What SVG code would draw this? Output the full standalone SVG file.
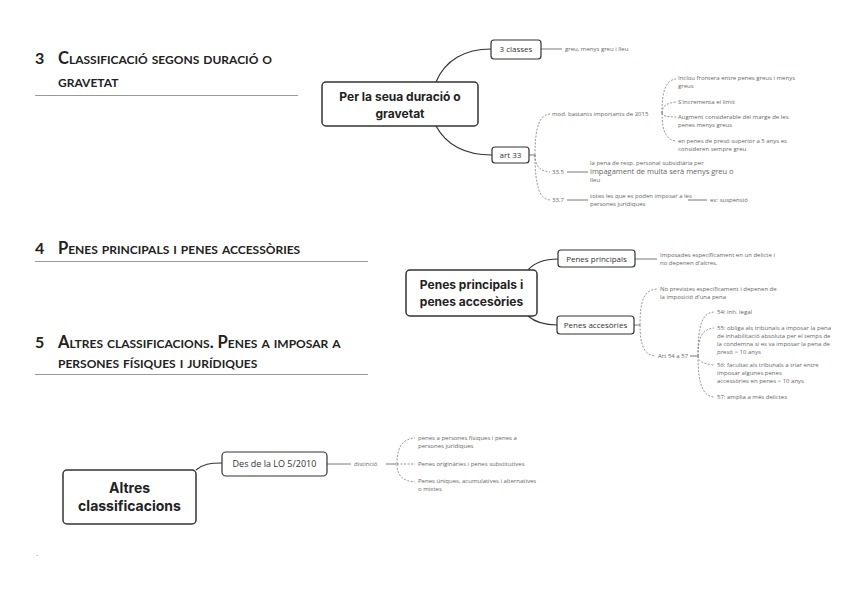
<svg xmlns="http://www.w3.org/2000/svg" width="848" height="599" viewBox="0 0 848 599">
<style>
.h{font-family:Lato,"Liberation Sans",sans-serif;font-weight:700;font-size:16.5px;font-variant:small-caps;fill:#222}
.hn{font-family:Lato,"Liberation Sans",sans-serif;font-weight:700;font-size:16px;fill:#222}
.rule{stroke:#999;stroke-width:1}
.root{fill:#fff;stroke:#333;stroke-width:1.5}
.sub{fill:#fff;stroke:#333;stroke-width:1.2}
.rt{font-family:Inter,"Open Sans",sans-serif;font-weight:700;font-size:12px;fill:#222;text-anchor:middle}
.st{font-family:"Open Sans","Liberation Sans",sans-serif;font-size:8px;fill:#333;text-anchor:middle}
.t{font-family:"Open Sans","Liberation Sans",sans-serif;font-size:6px;fill:#666}
.c{fill:none;stroke:#333;stroke-width:1.2}
.s{fill:none;stroke:#555;stroke-width:0.8}
.d{fill:none;stroke:#666;stroke-width:0.7;stroke-dasharray:2 1.5}
</style>
<g id="headings">
<text class="hn" x="35" y="64">3</text>
<text class="h" x="58" y="64">Classificació segons duració o</text>
<text class="h" x="58" y="87">gravetat</text>
<line class="rule" x1="35" y1="95.5" x2="298" y2="95.5"/>
<text class="hn" x="35" y="254">4</text>
<text class="h" x="58" y="254">Penes principals i penes accessòries</text>
<line class="rule" x1="35" y1="261.5" x2="368" y2="261.5"/>
<text class="hn" x="35" y="348">5</text>
<text class="h" x="58" y="348">Altres classificacions. Penes a imposar a</text>
<text class="h" x="58" y="368">persones físiques i jurídiques</text>
<line class="rule" x1="35" y1="374.5" x2="368" y2="374.5"/>
<text x="36" y="556" style="font-family:'Liberation Sans',sans-serif;font-size:8px;fill:#555">.</text>
</g>
<g id="connectors">
<path class="c" d="M436,82 C445,60 465,49 491,49"/>
<path class="c" d="M436,126 C448,148 468,155 492,155"/>
<line class="s" x1="541" y1="49" x2="562" y2="49"/>
<line class="s" x1="529" y1="155" x2="535" y2="155"/>
<path class="d" d="M535,155 C535,125 540,115 550,114"/>
<path class="d" d="M535,155 C535,166 540,171 550,172"/>
<path class="d" d="M535,155 C535,188 540,199 550,200"/>
<path class="d" d="M662,113 C662,88 667,80 676,79"/>
<path class="d" d="M662,113 C662,106 667,103 676,102"/>
<path class="d" d="M662,113 C662,116 667,117 676,117"/>
<path class="d" d="M662,113 C662,133 667,140 676,141"/>
<line class="s" x1="567" y1="172" x2="588" y2="172"/>
<line class="s" x1="567" y1="200" x2="588" y2="200"/>
<line class="s" x1="688" y1="200" x2="707" y2="200"/>
<path class="c" d="M528,270 C535,262 545,259 558,259"/>
<path class="c" d="M528,316 C535,322 545,325 557,325"/>
<line class="s" x1="635" y1="259" x2="657" y2="259"/>
<line class="s" x1="634" y1="325" x2="640" y2="325"/>
<path class="d" d="M640,325 C640,298 645,290 657,289"/>
<path class="d" d="M640,325 C640,347 645,355 655,356"/>
<line class="s" x1="690" y1="356" x2="697" y2="356"/>
<path class="d" d="M698,356 C698,322 703,313 714,312"/>
<path class="d" d="M698,356 C698,336 703,329 714,328"/>
<path class="d" d="M698,356 C698,361 703,364 714,365"/>
<path class="d" d="M698,356 C698,385 703,396 714,397"/>
<path class="c" d="M196,470 C203,464 210,463 222,463"/>
<line class="s" x1="327" y1="464" x2="351" y2="464"/>
<line class="s" x1="386" y1="464" x2="396" y2="464"/>
<path class="d" d="M397,464 C397,446 403,439 415,438"/>
<line class="d" x1="397" y1="464" x2="415" y2="464"/>
<path class="d" d="M397,464 C397,476 403,481 415,482"/>
</g>
<g id="n-root1">
<rect class="root" x="322" y="82" width="156" height="44" rx="4"/>
<text class="rt" x="400" y="101">Per la seua duració o</text>
<text class="rt" x="400" y="118">gravetat</text>
</g>
<g id="n-3classes">
<rect class="sub" x="491" y="40" width="50" height="19" rx="3"/>
<text class="st" x="516" y="52">3 classes</text>
</g>
<g id="n-greu"><text class="t" x="565" y="51">greu, menys greu i lleu</text></g>
<g id="n-art33">
<rect class="sub" x="492" y="147" width="37" height="16" rx="3"/>
<text class="st" x="510.5" y="158">art 33</text>
</g>
<g id="n-mod"><text class="t" x="552" y="116">mod. bastants importants de 2015</text></g>
<g id="n-inclou"><text class="t" x="678" y="80">Inclou frontera entre penes greus i menys</text><text class="t" x="678" y="88">greus</text></g>
<g id="n-incr"><text class="t" x="678" y="104">S'incrementa el límit</text></g>
<g id="n-aug"><text class="t" x="678" y="119">Augment considerable del marge de les</text><text class="t" x="678" y="127">penes menys greus</text></g>
<g id="n-preso"><text class="t" x="678" y="143">en penes de presó superior a 5 anys es</text><text class="t" x="678" y="151">consideren sempre greu</text></g>
<g id="n-335"><text class="t" x="552" y="174">33.5</text></g>
<g id="n-335t"><text class="t" x="590" y="165">la pena de resp. personal subsidiària per</text><text class="t" x="590" y="174" style="font-size:7.5px">impagament de multa serà menys greu o</text><text class="t" x="590" y="182">lleu</text></g>
<g id="n-337"><text class="t" x="552" y="202">33.7</text></g>
<g id="n-337t"><text class="t" x="590" y="198">totes les que es poden imposar a les</text><text class="t" x="590" y="206">persones jurídiques</text></g>
<g id="n-ex"><text class="t" x="710" y="202">ex: suspensió</text></g>
<g id="n-root2">
<rect class="root" x="406" y="270" width="131" height="46" rx="4"/>
<text class="rt" x="471.5" y="289">Penes principals i</text>
<text class="rt" x="471.5" y="306">penes accesòries</text>
</g>
<g id="n-princ">
<rect class="sub" x="558" y="250" width="77" height="17" rx="3"/>
<text class="st" x="596.5" y="261.5">Penes principals</text>
</g>
<g id="n-princt"><text class="t" x="660" y="257">Imposades específicament en un delicte i</text><text class="t" x="660" y="265">no depenen d'altres.</text></g>
<g id="n-acc">
<rect class="sub" x="557" y="316" width="77" height="18" rx="3"/>
<text class="st" x="595.5" y="328">Penes accesòries</text>
</g>
<g id="n-nopr"><text class="t" x="660" y="291">No previstes específicament i depenen de</text><text class="t" x="660" y="299">la imposició d'una pena</text></g>
<g id="n-art54"><text class="t" x="658" y="358">Art 54 a 57</text></g>
<g id="n-54"><text class="t" x="717" y="314">54: inh. legal</text></g>
<g id="n-55"><text class="t" x="717" y="330">55: obliga als tribunals a imposar la pena</text><text class="t" x="717" y="338">de inhabilitació absoluta per el temps de</text><text class="t" x="717" y="346">la condemna si es va imposar la pena de</text><text class="t" x="717" y="354">presó &gt; 10 anys</text></g>
<g id="n-56"><text class="t" x="717" y="367">56: facultat als tribunals a triar entre</text><text class="t" x="717" y="375">imposar algunes penes</text><text class="t" x="717" y="383">accessòries en penes &lt; 10 anys</text></g>
<g id="n-57"><text class="t" x="717" y="399">57: amplia a més delictes</text></g>
<g id="n-root3">
<rect class="root" x="63" y="470" width="133" height="54" rx="4"/>
<text class="rt" x="129.5" y="493" style="font-size:14px">Altres</text>
<text class="rt" x="129.5" y="511" style="font-size:14px">classificacions</text>
</g>
<g id="n-lo">
<rect class="sub" x="222" y="452" width="105" height="24" rx="4"/>
<text class="st" x="274.5" y="467" style="font-size:9px">Des de la LO 5/2010</text>
</g>
<g id="n-dist"><text class="t" x="354" y="466">distinció</text></g>
<g id="n-fis"><text class="t" x="418" y="440">penes a persones físiques i penes a</text><text class="t" x="418" y="448">persones jurídiques</text></g>
<g id="n-orig"><text class="t" x="418" y="466">Penes originàries i penes substitutives</text></g>
<g id="n-uniq"><text class="t" x="418" y="483">Penes úniques, acumulatives i alternatives</text><text class="t" x="418" y="491">o mixtes</text></g>
</svg>
